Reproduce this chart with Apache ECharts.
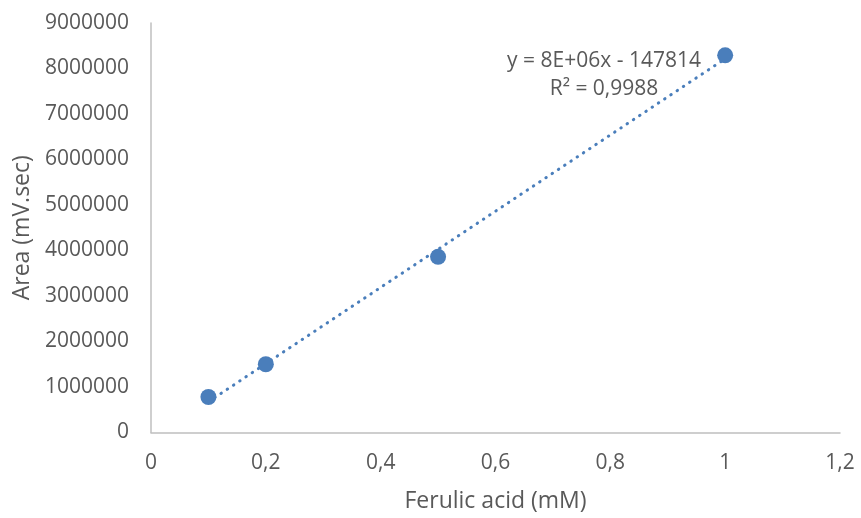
<!DOCTYPE html>
<html>
<head>
<meta charset="utf-8">
<script src="https://cdn.jsdelivr.net/npm/echarts@6/dist/echarts.min.js"></script>
<style>html,body{margin:0;padding:0;background:#fff;}#c{width:861px;height:518px;}</style>
</head>
<body>
<div id="c"></div>
<script>
var concentrations = [0.1, 0.2, 0.5, 1.0];
var areas = [780000, 1500000, 3860000, 8290000];
var xTicks = {min: 0, max: 1.2, interval: 0.2};
var yTicks = {min: 0, max: 9000000, interval: 1000000};
var equationLines = ['y = 8E+06x - 147814', 'R² = 0,9988'];
var xTitle = 'Ferulic acid (mM)';
var yTitle = 'Area (mV.sec)';

// linear least-squares trendline from the data
var n = concentrations.length, sx = 0, sy = 0, sxx = 0, sxy = 0;
for (var i = 0; i < n; i++) {
  sx += concentrations[i]; sy += areas[i];
  sxx += concentrations[i] * concentrations[i];
  sxy += concentrations[i] * areas[i];
}
var slope = (n * sxy - sx * sy) / (n * sxx - sx * sx);
var intercept = (sy - slope * sx) / n;
var xMin = Math.min.apply(null, concentrations), xMax = Math.max.apply(null, concentrations);
var trend = [[xMin, slope * xMin + intercept], [xMax, slope * xMax + intercept]];

var pts = concentrations.map(function (x, i) { return [x, areas[i]]; });
var FONT = '"Open Sans", sans-serif';
var TXT = '#595959';
var chart = echarts.init(document.getElementById('c'), null, {renderer: 'canvas'});
chart.setOption({
  animation: false,
  backgroundColor: '#fff',
  grid: {left: 151, right: 21, top: 23, bottom: 85.5, outerBoundsMode: 'none', containLabel: false},
  xAxis: {
    type: 'value', min: xTicks.min, max: xTicks.max, interval: xTicks.interval,
    name: xTitle, nameLocation: 'middle', nameGap: 57,
    nameTextStyle: {color: TXT, fontSize: 23, fontFamily: FONT},
    axisLine: {show: true, lineStyle: {color: '#bfbfbf', width: 1.5}},
    axisTick: {show: false}, splitLine: {show: false},
    axisLabel: {color: TXT, fontSize: 21, fontFamily: FONT, margin: 20,
      formatter: function (v) { return String(+v.toFixed(1)).replace('.', ','); }}
  },
  yAxis: {
    type: 'value', min: yTicks.min, max: yTicks.max, interval: yTicks.interval,
    name: yTitle, nameLocation: 'middle', nameGap: 110,
    nameTextStyle: {color: TXT, fontSize: 23, fontFamily: FONT},
    axisLine: {show: true, lineStyle: {color: '#bfbfbf', width: 1.5}},
    axisTick: {show: false}, splitLine: {show: false},
    axisLabel: {color: TXT, fontSize: 21, fontFamily: FONT, margin: 22,
      formatter: function (v) { return String(Math.round(v)); }}
  },
  series: [
    {
      type: 'line', data: trend, symbol: 'none', silent: true, z: 2,
      lineStyle: {color: '#4a7ebb', width: 3, type: [0.5, 7], cap: 'round'}
    },
    {
      type: 'scatter', data: pts, symbolSize: 16, z: 3,
      itemStyle: {color: '#4a7ebb', opacity: 1}
    }
  ],
  graphic: [
    {type: 'text', position: [604, 61], style: {text: equationLines[0], x: 0, y: 0, textAlign: 'center', textVerticalAlign: 'middle', fill: TXT, font: '21px ' + FONT}},
    {type: 'text', position: [604, 89], style: {text: equationLines[1], x: 0, y: 0, textAlign: 'center', textVerticalAlign: 'middle', fill: TXT, font: '21px ' + FONT}}
  ]
});
</script>
</body>
</html>
